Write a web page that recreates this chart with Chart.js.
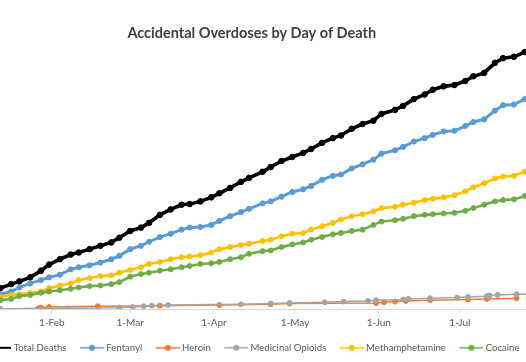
<!DOCTYPE html>
<html>
<head>
<meta charset="utf-8">
<script src="https://cdn.jsdelivr.net/npm/chart.js@4"></script>
<style>
  body { margin: 0; background: #fff; overflow: hidden; }
  #wrap { position: absolute; left: -40px; top: 0; width: 582px; height: 362px; }
</style>
</head>
<body>
<div id="wrap"><canvas id="overdoseChart" width="582" height="362"></canvas></div>
<script>
// days are counted from 1 Jan 2020 (day 0), values are cumulative deaths
var monthDays = [31, 60, 91, 121, 152, 182];
var monthLabels = ['1-Feb', '1-Mar', '1-Apr', '1-May', '1-Jun', '1-Jul'];

var mainDays = [12,16,19,23,27,30,34,38,41,45,49,53,56,60,64,67,71,75,79,82,86,90,93,97,101,104,109,112,116,120,124,127,131,135,138,142,146,150,153,158,161,165,169,172,176,180,184,187,191,195,198,202,206];

var totalDeaths = [31,37,41,47,57,66,74,81,84,89,94,99,106,116,121,128,140,148,155,156,160,166,172,180,189,195,204,211,220,226,232,238,247,254,258,268,275,280,290,296,302,312,319,326,331,333,339,346,351,366,373,375,382];
var fentanyl = [22,26,32,38,43,47,51,59,62,65,69,74,79,89,94,100,107,112,118,121,122,125,131,138,144,149,157,160,167,174,178,183,192,198,200,209,215,222,231,236,241,249,254,259,264,265,272,278,282,295,303,304,312];
var methamphetamine = [18,21,22,24,26,31,35,38,43,46,49,50,54,58,62,67,70,74,77,78,80,84,89,92,95,97,101,103,108,112,113,118,123,128,133,138,141,145,150,152,155,158,162,164,166,169,175,181,187,194,197,198,204];
var cocaine = [13,15,19,21,24,26,28,30,32,34,35,37,40,48,52,54,57,59,62,64,67,68,70,74,77,82,86,87,92,96,99,103,107,111,113,116,118,125,130,132,134,138,140,141,142,143,146,150,155,160,162,163,168];

var heroinDays = [12,26,27,30,48,71,93,112,119,151,154,158,162,171,185,192,203];
var heroin = [0,1,2,3,4,5,6,7,8,9,10,11,12,13,14,15,16];

var opioidDays = [12,37,56,61,65,68,74,101,112,119,132,139,148,151,161,163,171,181,185,192,193,196,203,208];
var medicinalOpioids = [0,1,2,3,4,5,6,7,8,9,10,11,12,13,14,15,16,17,18,19,20,21,22,22];

function points(days, values) {
  return days.map(function(d, i) { return { x: d, y: values[i] }; });
}

function legendIcon(color, withDot) {
  var c = document.createElement('canvas');
  c.width = 30; c.height = 10;
  var g = c.getContext('2d');
  g.strokeStyle = color;
  g.lineWidth = withDot ? 1.5 : 2;
  g.beginPath(); g.moveTo(6, 5); g.lineTo(30, 5); g.stroke();
  if (withDot) {
    g.fillStyle = color;
    g.beginPath(); g.arc(18, 5, 3, 0, Math.PI * 2); g.fill();
  }
  return c;
}

function series(label, color, days, values, radius, width) {
  return {
    label: label,
    data: points(days, values),
    borderColor: color,
    backgroundColor: color,
    pointBackgroundColor: color,
    pointBorderColor: color,
    borderWidth: width,
    pointRadius: radius,
    pointBorderWidth: 1,
    tension: 0
  };
}

var datasets = [
  series('Total Deaths', '#000000', mainDays, totalDeaths, 2.8, 3.6),
  series('Fentanyl', '#5B9BD5', mainDays, fentanyl, 2.6, 3),
  series('Heroin', '#ED7D31', heroinDays, heroin, 2.5, 1.5),
  series('Medicinal Opioids', '#A5A5A5', opioidDays, medicinalOpioids, 2.5, 1.5),
  series('Methamphetamine', '#FFC000', mainDays, methamphetamine, 2.5, 2.6),
  series('Cocaine', '#70AD47', mainDays, cocaine, 2.5, 2.6)
];
// excel draws later series on top
datasets.forEach(function(ds, i) { ds.order = datasets.length - i; });

var ctx = document.getElementById('overdoseChart');
var chart = new Chart(ctx, {
  type: 'line',
  data: { datasets: datasets },
  options: {
    responsive: false,
    animation: false,
    events: [],
    layout: { padding: { left: 8, right: 6.5, top: 0, bottom: 0 } },
    scales: {
      x: {
        type: 'linear',
        min: 0,
        max: 210,
        afterBuildTicks: function(axis) {
          axis.ticks = monthDays.map(function(d) { return { value: d }; });
        },
        ticks: {
          autoSkip: false,
          maxRotation: 0,
          padding: 3,
          color: '#595959',
          font: { family: 'Lato', size: 10, lineHeight: 1.4 },
          callback: function(value) {
            var i = monthDays.indexOf(value);
            return i >= 0 ? monthLabels[i] : '';
          }
        },
        grid: { drawOnChartArea: false, drawTicks: true, tickLength: 4, color: '#D9D9D9' },
        border: { color: '#D9D9D9', width: 1 }
      },
      y: {
        display: false,
        min: 0,
        max: 394
      }
    },
    plugins: {
      title: {
        display: true,
        text: 'Accidental Overdoses by Day of Death',
        color: '#404040',
        font: { family: 'Lato', size: 14.5, weight: 'bold' },
        padding: { top: 24.5, bottom: 2.1 }
      },
      legend: {
        position: 'bottom',
        maxHeight: 29,
        labels: {
          usePointStyle: true,
          pointStyleWidth: 25,
          padding: 10,
          color: '#595959',
          font: { family: 'Lato', size: 9.6 },
          generateLabels: function(chart) {
            return chart.data.datasets.map(function(ds, i) {
              return {
                text: ds.label,
                pointStyle: legendIcon(ds.borderColor, i > 0),
                fillStyle: ds.borderColor,
                strokeStyle: ds.borderColor,
                lineWidth: 0,
                fontColor: '#595959',
                hidden: false,
                datasetIndex: i
              };
            });
          }
        }
      },
      tooltip: { enabled: false }
    }
  }
});
</script>
</body>
</html>
